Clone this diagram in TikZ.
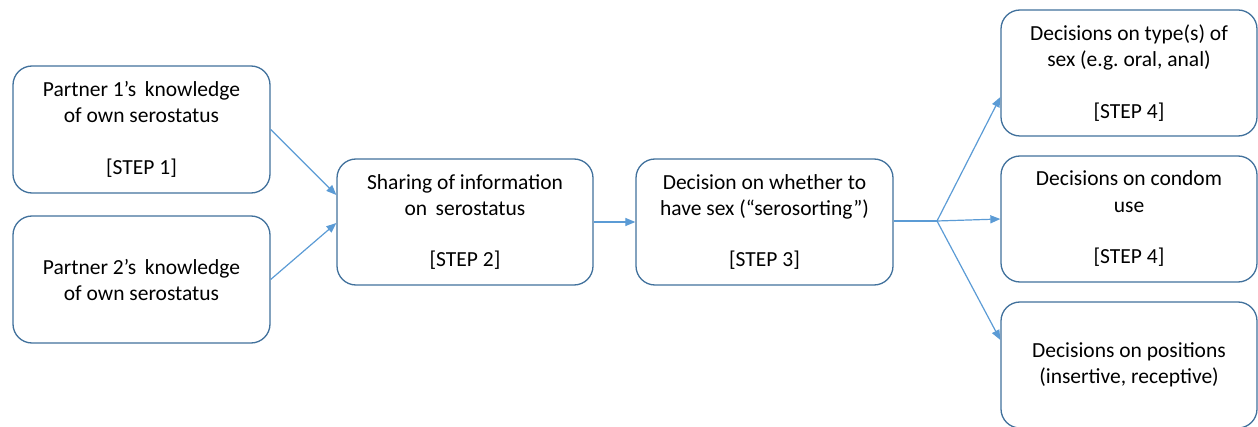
\documentclass[tikz,border=0pt]{standalone}
\usepackage{fontspec}
\setmainfont{Carlito}
\usetikzlibrary{arrows.meta,calc}
\definecolor{boxline}{HTML}{41719C}
\definecolor{arrowc}{HTML}{5B9BD5}
\definecolor{txt}{HTML}{000000}
\frenchspacing
\begin{document}
\begin{tikzpicture}[x=1pt,y=1pt,
  stepbox/.style={draw=boxline, line width=1.3pt, rounded corners=19pt, fill=white,
    minimum width=257pt, minimum height=127pt, inner sep=0pt, align=center,
    text=txt, font=\fontsize{21.5}{26}\selectfont\frenchspacing},
  conn/.style={draw=arrowc, line width=1.2pt, -{Triangle[length=10pt,width=8pt]}},
  plain/.style={draw=arrowc, line width=1.2pt}]
\useasboundingbox (0,0) rectangle (1258,426);
\node[stepbox] (p1) at (141.5,296.5) {Partner 1’s\, knowledge\\of own serostatus\\[26pt][STEP 1]};
\node[stepbox] (p2) at (141.5,146.5) {Partner 2’s\, knowledge\\of own serostatus};
\node[stepbox, minimum width=256pt, minimum height=126pt] (share) at (465,204) {Sharing of information\\on\, serostatus\\[26pt][STEP 2]};
\node[stepbox, minimum width=257pt, minimum height=126pt] (decide) at (764.5,204) {Decision on whether to\\have sex (“serosorting”)\\[26pt][STEP 3]};
\node[stepbox, minimum width=256pt, minimum height=126pt] (types) at (1129,353) {Decisions on type(s) of\\sex (e.g. oral, anal)\\[26pt][STEP 4]};
\node[stepbox, minimum width=256pt, minimum height=126pt] (condom) at (1129,207) {Decisions on condom\\use\\[26pt][STEP 4]};
\node[stepbox, minimum width=256pt, minimum height=126pt] (pos) at (1129,61) {Decisions on positions\\(insertive, receptive)};
\coordinate (br) at (937,205);
\draw[plain] ($(decide.east)+(0,1)$) -- (br);
\draw[conn] (p1.east) -- ($(share.west)+(0,27)$);
\draw[conn] (p2.east) -- ($(share.west)+(0,-1)$);
\draw[conn] (share.east) -- (decide.west);
\draw[conn] (br) -- ($(types.west)+(0,-24)$);
\draw[conn] (br) -- (condom.west);
\draw[conn] (br) -- ($(pos.west)+(0,25)$);
\end{tikzpicture}
\end{document}
